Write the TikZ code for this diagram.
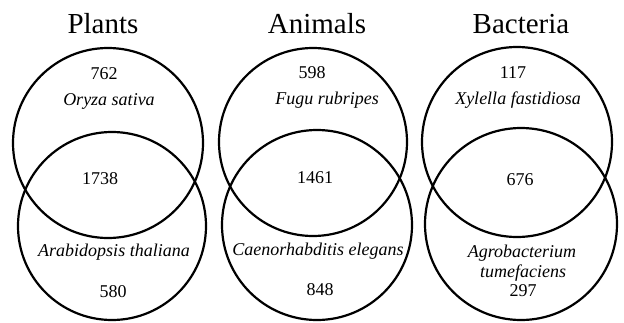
\documentclass[tikz,border=0pt]{standalone}
\usepackage{fontspec}
\setmainfont{Liberation Serif}
\begin{document}
\begin{tikzpicture}[x=1pt,y=-1pt,
  venn/.style={draw=black,line width=2.2pt,circle,inner sep=0pt,minimum size=#1},
  ttl/.style={font=\fontsize{29}{29}\selectfont,inner sep=0pt},
  num/.style={font=\fontsize{18}{18}\selectfont,inner sep=0pt},
  spc/.style={font=\fontsize{18}{18}\selectfont\itshape,inner sep=0pt,align=center}]
\useasboundingbox (0,0) rectangle (624,322);
% Plants
\node[venn=190pt] (pt) at (108,143) {};
\node[venn=188pt] (pb) at (112,226) {};
% Animals
\node[venn=188pt] (at) at (313,142) {};
\node[venn=190pt] (ab) at (317,225) {};
% Bacteria
\node[venn=190pt] (bt) at (517,142) {};
\node[venn=192pt] (bb) at (521,224) {};
% titles
\node[ttl] (plt) at (103,24) {Plants};
\node[ttl] (ant) at (317,24) {Animals};
\node[ttl] (bat) at (521,24) {Bacteria};
% plants labels
\node[num] (p1) at (104,74) {762};
\node[spc] (p2) at (109,101) {Oryza sativa};
\node[num] (p3) at (100,179) {1738};
\node[spc] (p4) at (114,252) {Arabidopsis thaliana};
\node[num] (p5) at (113,292) {580};
% animals labels
\node[num] (a1) at (312,73) {598};
\node[spc] (a2) at (327,100) {Fugu rubripes};
\node[num] (a3) at (315,178) {1461};
\node[spc] (a4) at (318,251) {Caenorhabditis elegans};
\node[num] (a5) at (320,290) {848};
% bacteria labels
\node[num] (b1) at (513,73) {117};
\node[spc] (b2) at (518,100) {Xylella fastidiosa};
\node[num] (b3) at (520,180) {676};
\node[spc] (b4) at (522,253) {Agrobacterium};
\node[spc] (b5) at (523,273) {tumefaciens};
\node[num] (b6) at (523,291) {297};
\end{tikzpicture}
\end{document}
